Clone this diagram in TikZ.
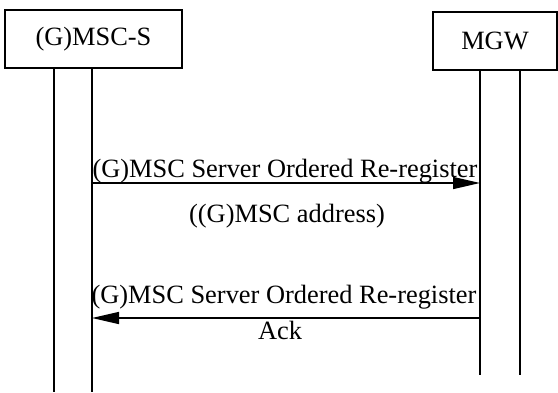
\documentclass[tikz,border=0pt]{standalone}
\usepackage{fontspec}
\setmainfont{Liberation Serif}
\usetikzlibrary{arrows.meta}
\begin{document}
\begin{tikzpicture}[x=1pt,y=-1pt,
  every node/.style={font=\fontsize{26.4}{30}\selectfont},
  entity/.style={draw,line width=1.5pt,minimum width=177pt,minimum height=58pt,inner sep=0pt},
  life/.style={line width=1.5pt},
  msg/.style={line width=1.5pt,-{Triangle[length=27pt,width=12pt]}},
  lbl/.style={inner sep=0pt,anchor=base}]
\useasboundingbox (0,0) rectangle (558,392);
\node[entity] (msc) at (93.5,39) {(G)MSC-S};
\node[entity,minimum width=124pt] (mgw) at (495,41) {MGW};
% lifelines
\coordinate (l1t) at (54,68);  \coordinate (l1b) at (54,392);
\coordinate (l2t) at (92,68);  \coordinate (l2b) at (92,392);
\coordinate (r1t) at (480,70); \coordinate (r1b) at (480,375);
\coordinate (r2t) at (520,70); \coordinate (r2b) at (520,375);
\draw[life] (l1t) -- (l1b);
\draw[life] (l2t) -- (l2b);
\draw[life] (r1t) -- (r1b);
\draw[life] (r2t) -- (r2b);
% messages
\coordinate (a1s) at (92,183); \coordinate (a1e) at (480,183);
\coordinate (a2s) at (480,318); \coordinate (a2e) at (92,318);
\draw[msg] (a1s) -- (a1e);
\draw[msg] (a2s) -- (a2e);
\node[lbl] (t1) at (285,177) {(G)MSC Server Ordered Re-register};
\node[lbl] (t2) at (287,222) {((G)MSC address)};
\node[lbl] (t3) at (284,303) {(G)MSC Server Ordered Re-register};
\node[lbl] (t4) at (280,339) {Ack};
\end{tikzpicture}
\end{document}
